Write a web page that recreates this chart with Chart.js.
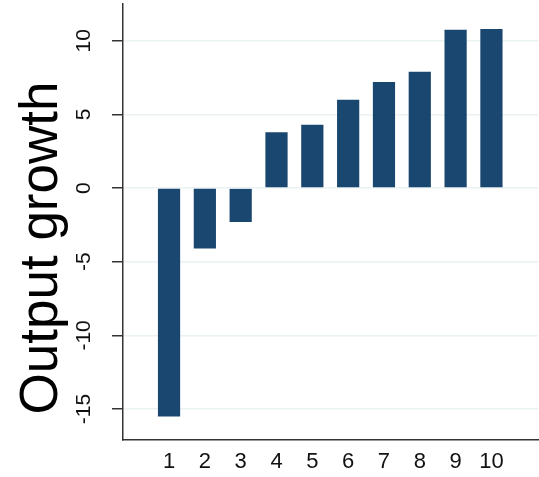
<!DOCTYPE html>
<html>
<head>
<meta charset="utf-8">
<script src="https://cdn.jsdelivr.net/npm/chart.js@4"></script>
<style>
  html, body { margin: 0; padding: 0; background: #ffffff; }
  #wrap { width: 539px; height: 477px; }
</style>
</head>
<body>
<div id="wrap"><canvas id="myChart"></canvas></div>
<script>
// chart data
var groups = [1, 2, 3, 4, 5, 6, 7, 8, 9, 10];
var outputGrowth = [-15.5, -4.1, -2.3, 3.8, 4.3, 6.0, 7.2, 7.9, 10.75, 10.8];
var yTicks = [-15, -10, -5, 0, 5, 10];
var yTitle = "Output growth";

var barColor = "#1a476f";
var axisColor = "#333333";
var gridColor = "#eaf2f3";
var fontFamily = "'Liberation Sans', Arial, Helvetica, sans-serif";

var points = groups.map(function (g, i) {
    return { x: g, y: outputGrowth[i] };
});

// y title sits a bit below the middle of the plot in the original, so draw it by hand
var yTitlePlugin = {
    id: "yTitle",
    afterDraw: function (chart) {
        var ctx = chart.ctx;
        var area = chart.chartArea;
        ctx.save();
        ctx.translate(42, (area.top + area.bottom) / 2 + 26);
        ctx.rotate(-Math.PI / 2);
        ctx.font = "53px " + fontFamily;
        ctx.fillStyle = "#000000";
        ctx.textAlign = "center";
        ctx.textBaseline = "middle";
        ctx.fillText(yTitle, 0, 0);
        ctx.restore();
    }
};

new Chart("myChart", {
    type: "bar",
    data: {
        datasets: [{
            data: points,
            backgroundColor: barColor,
            borderWidth: 0,
            barPercentage: 0.62,
            categoryPercentage: 1
        }]
    },
    options: {
        responsive: true,
        maintainAspectRatio: false,
        animation: false,
        layout: { padding: { top: 4, right: 1, left: 0, bottom: 0 } },
        plugins: {
            legend: { display: false },
            tooltip: { enabled: false }
        },
        scales: {
            x: {
                type: "linear",
                offset: false,
                min: -0.285,
                max: 11.3,
                afterBuildTicks: function (scale) {
                    scale.ticks = groups.map(function (g) { return { value: g }; });
                },
                afterFit: function (scale) {
                    scale.height = 37;
                    scale.paddingLeft = 0;
                    scale.paddingRight = 0;
                },
                grid: { display: false, drawTicks: false },
                border: { display: true, color: axisColor, width: 1.5 },
                ticks: {
                    color: "#111111",
                    padding: 9,
                    maxRotation: 0,
                    autoSkip: false,
                    font: { family: fontFamily, size: 22 }
                }
            },
            y: {
                min: -17.1,
                max: 12.5,
                afterBuildTicks: function (scale) {
                    scale.ticks = yTicks.map(function (v) { return { value: v }; });
                },
                afterFit: function (scale) {
                    scale.width = 123;
                    scale.paddingTop = 0;
                    scale.paddingBottom = 0;
                },
                grid: {
                    color: gridColor,
                    lineWidth: 1.5,
                    drawTicks: true,
                    tickLength: 11,
                    tickColor: axisColor,
                    tickWidth: 1.5
                },
                border: { display: true, color: axisColor, width: 1.5 },
                ticks: {
                    color: "#111111",
                    minRotation: 90,
                    maxRotation: 90,
                    crossAlign: "center",
                    padding: 13,
                    autoSkip: false,
                    font: { family: fontFamily, size: 21 }
                },
                title: { display: false }
            }
        }
    },
    plugins: [yTitlePlugin]
});
</script>
</body>
</html>
